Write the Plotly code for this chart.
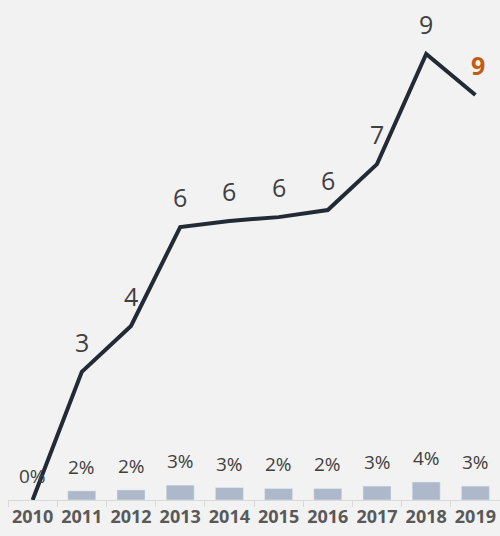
import plotly.graph_objects as go

years = ["2010", "2011", "2012", "2013", "2014", "2015", "2016", "2017", "2018", "2019"]
line_vals = [0, 2.71, 3.68, 5.77, 5.90, 5.98, 6.13, 7.10, 9.43, 8.56]
line_labels = ["", "3", "4", "6", "6", "6", "6", "7", "9", "9"]
bar_vals = [0, 1.9, 2.1, 3.1, 2.6, 2.4, 2.4, 2.9, 3.75, 2.9]
bar_labels = ["0%", "2%", "2%", "3%", "3%", "2%", "2%", "3%", "4%", "3%"]

FONT = "Open Sans"

fig = go.Figure()
fig.add_trace(go.Bar(x=years, y=bar_vals, marker_color="#adb9ca", width=0.57,
                     hoverinfo="skip", showlegend=False))
fig.add_trace(go.Scatter(x=years, y=line_vals, yaxis="y2", mode="lines",
                         line=dict(color="#222a35", width=4), showlegend=False))

# category index used as annotation x so "2010" is not read as a position
for i in range(len(years)):
    fig.add_annotation(x=i, y=bar_vals[i], yref="y", text=bar_labels[i], showarrow=False,
                       yanchor="bottom", yshift=9,
                       font=dict(family=FONT, size=19, color="#404040"))
    if line_labels[i]:
        last = i == len(years) - 1
        fig.add_annotation(x=i, y=line_vals[i], yref="y2", text=line_labels[i], showarrow=False,
                           yanchor="middle", yshift=30, xshift=3 if last else 0,
                           font=dict(family=FONT, size=25,
                                     color="#c55a11" if last else "#404040",
                                     weight="bold" if last else "normal"))

fig.update_layout(
    width=500, height=536,
    margin=dict(l=8, r=0, t=0, b=36),
    paper_bgcolor="#f2f2f2", plot_bgcolor="#f2f2f2",
    xaxis=dict(type="category", range=[-0.5, 9.5], tickson="boundaries", ticks="outside", ticklen=6,
               tickcolor="#d9d9d9", showline=True, linecolor="#d9d9d9", linewidth=1,
               showgrid=False, tickangle=0,
               tickfont=dict(family=FONT, size=18, color="#595959", weight="bold")),
    yaxis=dict(range=[0, 104.2], visible=False, showgrid=False),
    yaxis2=dict(range=[0, 10.57], overlaying="y", visible=False, showgrid=False),
)

# drop the default body margin so the 500x536 figure fills the window
fig.write_html("out.html", config={"displayModeBar": False},
               post_script="document.body.style.margin='0';"
               "document.body.style.overflow='hidden';"
               "document.body.style.background='#f2f2f2';")
